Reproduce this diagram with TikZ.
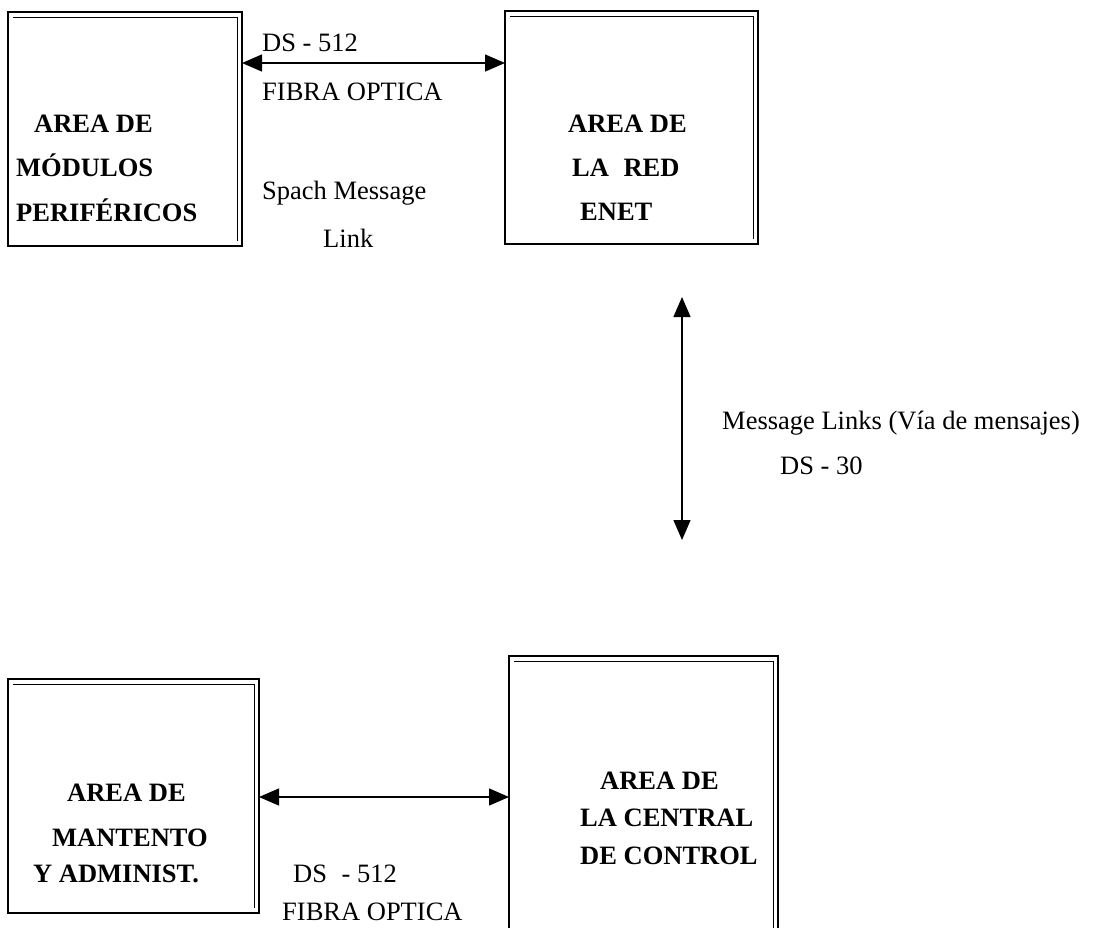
\documentclass[tikz,border=0pt]{standalone}
\usepackage{fontspec}
\setmainfont{Liberation Serif}
\usetikzlibrary{arrows.meta}
\begin{document}
\begin{tikzpicture}[x=1pt,y=-1pt,
  box/.style={draw, line width=1.6pt, inner sep=0pt, outer sep=0pt},
  inl/.style={line width=0.7pt},
  lbl/.style={anchor=base west, inner sep=0pt, font=\fontsize{26.5}{30}\selectfont},
  blbl/.style={anchor=base west, inner sep=0pt, font=\fontsize{26.5}{30}\selectfont\bfseries},
  link/.style={line width=1.3pt, {Triangle[length=20pt,width=17pt]}-{Triangle[length=20pt,width=17pt]}}]
\useasboundingbox (0,0) rectangle (1093,927);
\fill[white] (0,0) rectangle (1093,927);
\clip (0,0) rectangle (1093,927);

% boxes
\node[box, minimum width=234pt, minimum height=234pt] (b1) at (125,129) {};
\node[box, minimum width=253pt, minimum height=233pt] (b2) at (631.5,127.5) {};
\node[box, minimum width=251pt, minimum height=234pt] (b3) at (133.5,796) {};
\node[box, minimum width=269pt, minimum height=304pt] (b4) at (643.5,808) {};

% inner scan lines (top and right)
\foreach \b in {b1,b2,b3,b4}{
  \draw[inl] ([xshift=5pt,yshift=-5pt]\b.north west) -- ([xshift=-5pt,yshift=-5pt]\b.north east) -- ([xshift=-5pt,yshift=5pt]\b.south east);
}

% connectors
\coordinate (ty) at (0,63);
\coordinate (by) at (0,797);
\draw[link] (b1.east |- ty) -- (b2.west |- ty);
\draw[link] (b3.east |- by) -- (b4.west |- by);
\coordinate (vt) at (682,297);
\coordinate (vb) at (682,540);
\draw[link] (vt) -- (vb);

% top link labels
\node[lbl] (t1) at (262,51) {DS - 512};
\node[lbl] (t2) at (262,100) {FIBRA OPTICA};
\node[lbl] (t3) at (262,199) {Spach Message};
\node[lbl] (t4) at (323,247) {Link};

% box 1
\node[blbl] (a1) at (34,132) {AREA DE};
\node[blbl] (a2) at (16,176) {MÓDULOS};
\node[blbl] (a3) at (16,221) {PERIFÉRICOS};

% box 2
\node[blbl] (e1) at (568,132) {AREA DE};
\node[blbl] (e2) at (572,176) {LA\hspace{0.3em} RED};
\node[blbl] (e3) at (580,220) {ENET};

% vertical link labels
\node[lbl] (m1) at (722,429) {Message Links (Vía de mensajes)};
\node[lbl] (m2) at (780,474) {DS - 30};

% box 3
\node[blbl] (c1) at (67,801) {AREA DE};
\node[blbl] (c2) at (52,846) {MANTENTO};
\node[blbl] (c3) at (33,882) {Y ADMINIST.};

% bottom link labels
\node[lbl] (d1) at (293,882) {DS\hspace{0.3em} - 512};
\node[lbl] (d2) at (282,920) {FIBRA OPTICA};

% box 4
\node[blbl] (f1) at (600,789) {AREA DE};
\node[blbl] (f2) at (580,826) {LA CENTRAL};
\node[blbl] (f3) at (580,864) {DE CONTROL};
\end{tikzpicture}
\end{document}
